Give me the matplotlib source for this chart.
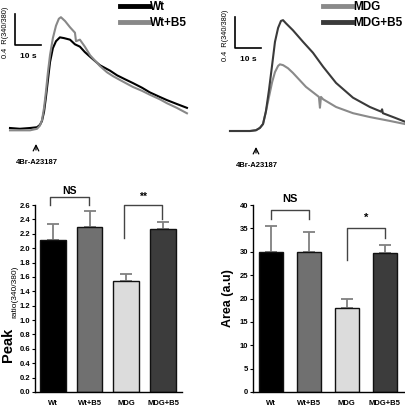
import matplotlib
matplotlib.use("Agg")
from matplotlib import pyplot as plt
from matplotlib.lines import Line2D

plt.rcParams['font.family'] = ['Liberation Sans', 'DejaVu Sans']

# ---- traces (time in s, ratio 340/380) ----
t_wt = [0, 3.8, 7.7, 10.4, 11.5, 12.3, 13.1, 13.8, 14.6, 15.4, 16.5, 17.7, 19.2, 20.8,
        23.1, 25.0, 26.9, 28.8, 30.8, 34.6, 38.5, 41.2, 44.2, 47.3, 50.8, 53.8, 57.7,
        60.4, 64.2, 68.1]
r_wt = [1.00, 0.99, 1.00, 1.01, 1.04, 1.09, 1.21, 1.39, 1.62, 1.85, 2.03, 2.12, 2.17, 2.16,
        2.14, 2.08, 2.05, 1.98, 1.92, 1.81, 1.74, 1.68, 1.63, 1.58, 1.52, 1.46, 1.40,
        1.36, 1.31, 1.26]

t_wtb5 = [0, 3.8, 7.7, 10.4, 11.5, 12.3, 13.1, 13.8, 14.6, 15.4, 16.5, 17.7, 18.8, 19.6,
          21.2, 23.1, 25.0, 25.4, 26.9, 28.8, 30.8, 34.6, 37.3, 39.6, 42.3, 47.3, 50.8,
          53.8, 57.7, 60.4, 64.2, 68.1]
r_wtb5 = [0.97, 0.97, 0.97, 0.99, 1.03, 1.10, 1.26, 1.46, 1.72, 1.94, 2.16, 2.32, 2.41, 2.43,
          2.38, 2.30, 2.23, 2.12, 2.14, 2.05, 1.94, 1.80, 1.72, 1.67, 1.62, 1.53, 1.48,
          1.43, 1.37, 1.32, 1.26, 1.19]

t_mdg = [0, 3.8, 7.7, 10.0, 11.5, 12.7, 13.8, 15.0, 16.2, 17.3, 18.5, 19.2, 20.4, 22.3,
         24.2, 29.2, 34.2, 34.6, 35.0, 35.8, 40.8, 47.3, 53.8, 61.5, 67.3]
r_mdg = [1.00, 1.00, 1.00, 1.01, 1.04, 1.09, 1.25, 1.44, 1.63, 1.76, 1.84, 1.86, 1.85, 1.81,
         1.75, 1.57, 1.44, 1.30, 1.44, 1.41, 1.31, 1.23, 1.18, 1.13, 1.09]

t_mdgb5 = [0, 3.8, 7.7, 10.0, 11.5, 12.7, 13.8, 15.0, 16.2, 17.3, 18.5, 19.6, 20.4, 21.5,
           24.2, 28.1, 31.9, 35.8, 40.8, 47.3, 53.8, 58.1, 58.5, 58.8, 63.5, 67.3]
r_mdgb5 = [1.00, 1.00, 1.00, 1.01, 1.04, 1.09, 1.25, 1.53, 1.85, 2.15, 2.33, 2.42, 2.43, 2.39,
           2.30, 2.15, 2.01, 1.83, 1.62, 1.43, 1.31, 1.25, 1.28, 1.23, 1.17, 1.12]

# ---- bar data ----
groups = ['Wt', 'Wt+B5', 'MDG', 'MDG+B5']
bar_colors = ['#000000', '#707070', '#dcdcdc', '#3c3c3c']
peak_mean = [2.11, 2.29, 1.54, 2.27]
peak_err = [0.23, 0.22, 0.10, 0.10]
area_mean = [30.0, 29.9, 18.0, 29.8]
area_err = [5.5, 4.3, 2.0, 1.6]

W, H = 406, 408
fig = plt.figure(figsize=(W / 100, H / 100), dpi=100)


def px_axes(x0, y0, x1, y1):
    # axes from pixel box (top-left origin)
    return fig.add_axes([x0 / W, 1 - y1 / H, (x1 - x0) / W, (y1 - y0) / H])


def trace_panel(ax, series, labels, colors, leg_x):
    for (t, r), lab, c in zip(series, labels, colors):
        ax.plot(t, r, color=c, lw=1.5, label=lab)
    ax.axis('off')
    # scale bar: 0.4 ratio / 10 s
    ax.plot([1.9, 1.9, 11.9], [2.47, 2.07, 2.07], color='black', lw=1.2, clip_on=False)
    ax.text(6.9, 1.97, '10 s', fontsize=6, fontweight='bold', ha='center', va='top')
    ax.text(-1.9, 1.90, '0.4  R(340/380)', fontsize=5.3, rotation=90, ha='center',
            va='bottom')
    ax.annotate('', xy=(10.0, 0.83), xytext=(10.0, 0.68),
                arrowprops=dict(arrowstyle='->', lw=0.9, color='black'))
    ax.text(10.4, 0.56, '4Br-A23187', fontsize=5.5, fontweight='bold', ha='center',
            va='center')
    handles = [Line2D([], [], color=c, lw=3.5) for c in colors]
    ax.legend(handles, labels, loc='upper left', bbox_to_anchor=(leg_x / W, 1.01),
              bbox_transform=fig.transFigure, frameon=False, handlelength=2.5,
              handletextpad=0.1, labelspacing=0.35, borderaxespad=0,
              prop=dict(size=8.5, weight='bold'))


ax1 = px_axes(0, 0, 195, 170)
ax1.set_xlim(-3.85, 71.2)
ax1.set_ylim(0.458, 2.652)
trace_panel(ax1, [(t_wt, r_wt), (t_wtb5, r_wtb5)], ['Wt', 'Wt+B5'],
            ['#000000', '#888888'], 115)

ax2 = px_axes(215, 0, 406, 170)
ax2.set_xlim(-5.77, 67.7)
ax2.set_ylim(0.497, 2.690)
trace_panel(ax2, [(t_mdg, r_mdg), (t_mdgb5, r_mdgb5)], ['MDG', 'MDG+B5'],
            ['#8a8a8a', '#3a3a3a'], 318)


def bar_panel(ax, means, errs, width):
    x = list(range(len(groups)))
    ax.bar(x, means, width=width, color=bar_colors, edgecolor='#111111', lw=1.0, zorder=2)
    ax.errorbar(x, means, yerr=[[0] * len(errs), errs], fmt='none', ecolor='#808080',
                elinewidth=1.3, capsize=4.5, capthick=1.3, zorder=1)
    ax.set_xticks(x)
    ax.set_xticklabels(groups, fontsize=5.5, fontweight='bold')
    ax.tick_params(axis='x', length=0, pad=6)
    ax.tick_params(axis='y', length=2.5, width=0.8, labelsize=5.5, pad=0.8)
    for lab in ax.get_yticklabels():
        lab.set_fontweight('bold')
    ax.spines['top'].set_visible(False)
    ax.spines['right'].set_visible(False)
    ax.spines['left'].set_linewidth(1.0)
    ax.spines['bottom'].set_linewidth(1.0)


def bracket(ax, x0, x1, y_top, y0, y1, text, ty, size):
    ax.plot([x0, x0, x1, x1], [y0, y_top, y_top, y1], color='#444444', lw=1.0,
            clip_on=False)
    ax.text((x0 + x1) / 2, ty, text, ha='center', va='center', fontsize=size,
            fontweight='bold', clip_on=False)


ax3 = px_axes(35, 205, 182, 392)
bar_panel(ax3, peak_mean, peak_err, 0.7)
ax3.set_xlim(-0.49, 3.52)
ax3.set_ylim(0, 2.6)
ax3.set_yticks([0.0, 0.2, 0.4, 0.6, 0.8, 1.0, 1.2, 1.4, 1.6, 1.8, 2.0, 2.2, 2.4, 2.6])
ax3.set_yticklabels(['%.1f' % v for v in ax3.get_yticks()], fontweight='bold')
bracket(ax3, -0.07, 0.98, 2.71, 2.6, 2.6, 'NS', 2.8, 7.5)
bracket(ax3, 1.95, 2.97, 2.6, 2.14, 2.41, '**', 2.71, 7.5)
fig.text(8 / W, 1 - 345 / H, 'Peak', rotation=90, fontsize=10.5, fontweight='bold',
         ha='center', va='center')
fig.text(15 / W, 1 - 292 / H, 'ratio(340/380)', rotation=90, fontsize=6,
         ha='center', va='center')

ax4 = px_axes(253, 205, 405, 392)
bar_panel(ax4, area_mean, area_err, 0.64)
ax4.set_xlim(-0.47, 3.53)
ax4.set_ylim(0, 40)
ax4.set_yticks(range(0, 41, 5))
bracket(ax4, 0.0, 1.0, 38.9, 37.1, 37.1, 'NS', 41.2, 8)
bracket(ax4, 2.0, 3.0, 35.0, 28.2, 32.9, '*', 37.3, 8)
ax4.set_ylabel('Area (a.u)', fontsize=9, fontweight='bold', labelpad=4)

plt.savefig("out.png", dpi=100)
